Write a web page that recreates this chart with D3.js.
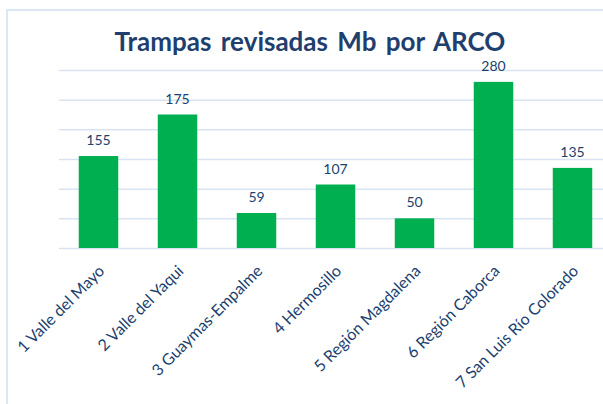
<!DOCTYPE html>
<html><head><meta charset="utf-8">
<script src="https://cdn.jsdelivr.net/npm/d3@7"></script>
<style>html,body{margin:0;padding:0;background:#fff;overflow:hidden}</style>
</head><body>
<svg id="c" width="603" height="404"></svg>
<script>
const categories = ["1 Valle del Mayo","2 Valle del Yaqui","3 Guaymas-Empalme","4 Hermosillo","5 Región Magdalena","6 Región Caborca","7 San Luis Río Colorado"];
// bar heights as drawn in the picture (the second bar is drawn taller than its label)
const barHeights = [155,225,59,107,50,280,135];
// data labels as printed above the bars
const dataLabels = ["155","175","59","107","50","280","135"];
const yTicks = [0,50,100,150,200,250,300];
const title = "Trampas revisadas Mb por ARCO";

const svg = d3.select("#c");
const textColor = "#203f6f";
svg.append("rect").attr("x",7).attr("y",10).attr("width",700).attr("height",500)
  .attr("fill","none").attr("stroke","#dce6f4").attr("stroke-width",2);

const x = d3.scaleBand().domain(categories).range([59,612]).paddingInner(0.5).paddingOuter(0.25);
const y = d3.scaleLinear().domain([0,300]).range([248,70]);

svg.append("g").selectAll("line").data(yTicks).join("line")
  .attr("x1",59).attr("x2",612).attr("y1",d=>y(d)+0.5).attr("y2",d=>y(d)+0.5)
  .attr("stroke","#d9e3f1").attr("stroke-width",1.5);

svg.append("g").selectAll("rect").data(barHeights).join("rect")
  .attr("x",(d,i)=>x(categories[i])).attr("width",x.bandwidth())
  .attr("y",d=>y(d)).attr("height",d=>y(0)-y(d)).attr("fill","#00b050");

svg.append("g").selectAll("text").data(barHeights).join("text")
  .attr("x",(d,i)=>x(categories[i])+x.bandwidth()/2).attr("y",d=>y(d)-11)
  .attr("text-anchor","middle").attr("font-family","Lato, 'Open Sans', sans-serif")
  .attr("font-size",14).attr("fill",textColor).text((d,i)=>dataLabels[i]);

svg.append("g").selectAll("text").data(categories).join("text")
  .attr("transform",d=>`translate(${x(d)+x.bandwidth()/2+7},${272}) rotate(-45)`)
  .attr("text-anchor","end").attr("font-family","Lato, 'Open Sans', sans-serif")
  .attr("font-size",16).attr("fill",textColor).text(d=>d);

svg.append("text").attr("x",310).attr("y",51).attr("text-anchor","middle")
  .attr("font-family","Lato, 'Open Sans', sans-serif").attr("font-weight","bold")
  .attr("font-size",26).attr("fill","#1f3f6e").attr("word-spacing",3).text(title);
</script>
</body></html>
